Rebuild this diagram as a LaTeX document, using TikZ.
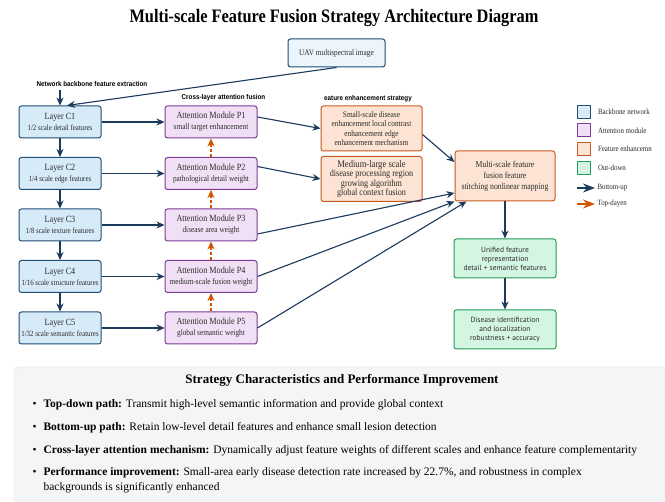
\documentclass[tikz,border=0pt]{standalone}
\usepackage{fontspec}
\setmainfont{Liberation Serif}
\newfontfamily\narrowserif[FakeStretch=0.86]{Liberation Serif}
\newfontfamily\labelsans[FakeStretch=0.9]{Liberation Sans}
\newfontfamily\boxsans{PT Sans}
\usetikzlibrary{positioning, arrows.meta}

\definecolor{bbfill}{HTML}{D6EAF8}
\definecolor{bbline}{HTML}{1F4E79}
\definecolor{atfill}{HTML}{F1E0F5}
\definecolor{atline}{HTML}{7D3C98}
\definecolor{enfill}{HTML}{FCE3D3}
\definecolor{enline}{HTML}{C65A1E}
\definecolor{gnfill}{HTML}{D5F5E3}
\definecolor{gnline}{HTML}{239B56}
\definecolor{uavfill}{HTML}{EBF5FB}
\definecolor{uavline}{HTML}{1B4F72}
\definecolor{navy}{HTML}{1B3A5C}
\definecolor{rust}{HTML}{D35400}
\definecolor{panelbg}{HTML}{F4F5F6}
\definecolor{panelline}{HTML}{DADCDE}
\definecolor{txt}{HTML}{2B2B2B}

\begin{document}
\begin{tikzpicture}[
    x=1pt, y=-1pt,
    node distance=18.5pt and 63pt,
    box/.style={draw, rounded corners=2.5pt, line width=1pt, align=center,
                inner sep=1pt, text=txt},
    layer/.style={box, fill=bbfill, draw=bbline, minimum width=82pt,
                  minimum height=32pt, font=\narrowserif\fontsize{8}{11}\selectfont},
    attn/.style={box, fill=atfill, draw=atline, minimum width=92pt,
                 minimum height=32pt, font=\narrowserif\fontsize{8.5}{11}\selectfont},
    enh/.style={box, fill=enfill, draw=enline, minimum width=101pt,
                minimum height=45pt, font=\narrowserif\fontsize{8.5}{9.3}\selectfont},
    outbox/.style={box, fill=gnfill, draw=gnline, minimum width=102pt,
                   minimum height=39pt, font=\boxsans\fontsize{7.5}{9}\selectfont},
    heading/.style={font=\labelsans\bfseries\fontsize{7}{8}\selectfont, text=black},
    legtext/.style={anchor=west, font=\narrowserif\fontsize{8}{10}\selectfont, text=txt},
    legbox/.style={draw, line width=1pt, minimum size=13pt, inner sep=0pt},
    item/.style={anchor=west, align=left, font=\fontsize{11.5}{15}\selectfont, text=black},
    flow/.style={-{Stealth[length=8pt, width=7pt]}, navy, line width=1.1pt},
    topdown/.style={-{Stealth[length=8pt, width=7pt]}, rust, dash pattern=on 3pt off 2pt,
                    line width=1.1pt},
  ]
  \useasboundingbox (0,0) rectangle (665,502);
  \fill[white] (0,0) rectangle (665,502);

  \node[font=\narrowserif\bfseries\fontsize{19}{22}\selectfont] (title) at (334,18)
    {Multi-scale Feature Fusion Strategy Architecture Diagram};

  \node[box, fill=uavfill, draw=uavline, minimum width=97pt, minimum height=28pt,
        font=\narrowserif\fontsize{8.5}{10}\selectfont] (uav) at (336.5,53)
    {UAV multispectral image};

  % backbone column
  \node[heading] (hback) at (92,84) {Network backbone feature extraction};
  \node[layer] (c1) at (60,122) {{\fontsize{9.5}{11}\selectfont Layer C1}\\1/2 scale detail features};
  \node[layer, below=of c1] (c2) {{\fontsize{9.5}{11}\selectfont Layer C2}\\1/4 scale edge features};
  \node[layer, below=of c2] (c3) {{\fontsize{9.5}{11}\selectfont Layer C3}\\1/8 scale texture features};
  \node[layer, below=of c3] (c4) {{\fontsize{9.5}{11}\selectfont Layer C4}\\1/16 scale structure features};
  \node[layer, below=of c4] (c5) {{\fontsize{9.5}{11}\selectfont Layer C5}\\1/32 scale semantic features};

  % attention column
  \node[heading] (hattn) at (223.5,98) {Cross-layer attention fusion};
  \node[attn, right=of c1] (p1) {{\fontsize{9.5}{11}\selectfont Attention Module P1}\\small target enhancement};
  \node[attn, right=of c2] (p2) {{\fontsize{9.5}{11}\selectfont Attention Module P2}\\pathological detail weight};
  \node[attn, right=of c3] (p3) {{\fontsize{9.5}{11}\selectfont Attention Module P3}\\disease area weight};
  \node[attn, right=of c4] (p4) {{\fontsize{9.5}{11}\selectfont Attention Module P4}\\medium-scale fusion weight};
  \node[attn, right=of c5] (p5) {{\fontsize{9.5}{11}\selectfont Attention Module P5}\\global semantic weight};

  % enhancement column
  \node[heading] (henh) at (368,99) {eature enhancement strategy};
  \node[enh, right=of p1, yshift=-6.5pt] (e1)
    {Small-scale disease\\enhancement local contrast\\enhancement edge\\enhancement mechanism};
  \node[enh, right=of p2, yshift=-5.5pt, font=\narrowserif\fontsize{9.5}{9.3}\selectfont] (e2)
    {{\fontsize{10}{9.3}\selectfont Medium-large scale}\\disease processing region\\growing algorithm\\global context fusion};

  % fusion and output
  \node[box, fill=enfill, draw=enline, minimum width=100pt, minimum height=50pt,
        font=\narrowserif\fontsize{9}{11}\selectfont] (fuse) at (505,176)
    {Multi-scale feature\\fusion feature\\stitching nonlinear mapping};
  \node[outbox, below=37pt of fuse] (unif)
    {Unified feature\\representation\\detail + semantic features};
  \node[outbox, below=31pt of unif] (diag)
    {Disease identification\\and localization\\robustness + accuracy};

  % legend
  \node[legbox, fill=bbfill, draw=bbline] (lg1) at (583.5,112) {};
  \node[legbox, fill=atfill, draw=atline] (lg2) at (583.5,130.5) {};
  \node[legbox, fill=enfill, draw=enline] (lg3) at (583.5,149) {};
  \node[legbox, fill=gnfill, draw=gnline] (lg4) at (583.5,168) {};
  \node[legtext] at ([xshift=4pt]lg1.east) {Backbone network};
  \node[legtext] at ([xshift=4pt]lg2.east) {Attention module};
  \node[legtext] at ([xshift=4pt]lg3.east) {Feature enhancemn};
  \node[legtext] at ([xshift=4pt]lg4.east) {Out-down};
  \node[legtext] (lgbu) at (594,188) {Bottom-up};
  \node[legtext] (lgtd) at (594,204) {Top-dayen};
  \draw[navy, -{Stealth[length=12pt, width=9pt]}, line width=1.2pt]
    ([xshift=-17pt]lgbu.west) -- ([xshift=1pt]lgbu.west);
  \draw[rust, -{Stealth[length=12pt, width=9pt]}, line width=1.2pt]
    ([xshift=-17pt]lgtd.west) -- ([xshift=1pt]lgtd.west);

  % connectors
  \draw[flow] (uav.south) -- ([xshift=7pt]c1.north);
  \draw[flow] (c1.north |- hback.south) -- (c1.north);
  \foreach \a/\b in {c1/c2, c2/c3, c3/c4, c4/c5} \draw[flow] (\a) -- (\b);
  \foreach \i in {1,...,5} \draw[flow] (c\i) -- (p\i);
  \foreach \a/\b in {p2/p1, p3/p2, p4/p3, p5/p4} \draw[topdown] (\a) -- (\b);
  \draw[flow] ([yshift=5pt]p1.east) -- (e1.west);
  \draw[flow] ([yshift=7pt]p2.east) -- (e2.west);
  \draw[flow] ([yshift=-6pt]e1.east) -- ([yshift=14pt]fuse.west);
  \draw[flow] ([yshift=-9pt]p3.east) -- ([yshift=-17pt]fuse.west);
  \draw[flow] (p4.east) -- (fuse.south west);
  \draw[flow] (p5.east) -- ([xshift=12pt]fuse.south west);
  \draw[flow] (fuse) -- (unif);
  \draw[flow] (unif) -- (diag);

  % summary panel
  \draw[panelline, fill=panelbg, rounded corners=4pt] (14,367) rectangle (680,515);
  \node[font=\bfseries\fontsize{13}{15}\selectfont] (ptitle) at (342,380)
    {Strategy Characteristics and Performance Improvement};
  \node[item] (r1) at (29,405) {\textbullet\hspace{7pt}\textbf{Top-down path:} Transmit high-level semantic information and provide global context};
  \node[item] (r2) at (29,428) {\textbullet\hspace{7pt}\textbf{Bottom-up path:} Retain low-level detail features and enhance small lesion detection};
  \node[item] (r3) at (29,451) {\textbullet\hspace{7pt}\textbf{Cross-layer attention mechanism:} Dynamically adjust feature weights of different scales and enhance feature complementarity};
  \node[item] (r4) at (29,480.5) {\textbullet\hspace{7pt}\textbf{Performance improvement:} Small-area early disease detection rate increased by 22.7\%, and robustness in complex\\
    \phantom{\textbullet\hspace{7pt}}backgrounds is significantly enhanced};
\end{tikzpicture}
\end{document}
